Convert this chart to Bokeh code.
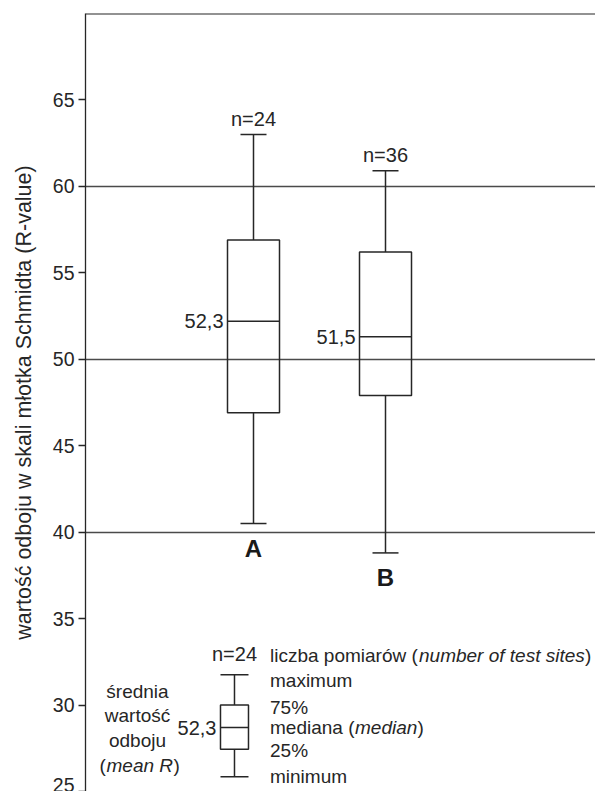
import math
from bokeh.plotting import figure
from bokeh.models import Range1d, FixedTicker, Span
from bokeh.core.properties import value
from bokeh.embed import file_html
from bokeh.resources import INLINE

# ---------------- data ----------------
groups = ["A", "B"]
n_sites = [24, 36]
mean_labels = ["52,3", "51,5"]
r_max = [63.0, 60.9]
r_q3 = [56.9, 56.2]
r_median = [52.2, 51.3]
r_q1 = [46.9, 47.9]
r_min = [40.5, 38.8]

# explanatory key box (example values)
key_n = 24
key_mean = "52,3"
key_max = 31.75
key_q3 = 30.0
key_median = 28.7
key_q1 = 27.45
key_min = 25.85

y_ticks = [25, 30, 35, 40, 45, 50, 55, 60, 65]
grid_ticks = [40, 50, 60]

# ---------------- layout ----------------
W, H = 595, 791
BORDER_L, BORDER_T = 85, 13
UX = 132.0
X_START = 1 - 168 / UX
X_END = X_START + (W - BORDER_L) / UX
Y_START, Y_END = 25.0, 70.0
FRAME_H = H - BORDER_T
UY = FRAME_H / (Y_END - Y_START)   # px per y unit


def xd(px):
    return X_START + (px - BORDER_L) / UX


def yd(px):
    return Y_END - (px - BORDER_T) / UY


FONT = "Liberation Sans"
FS = "19px"
INK = "#262626"
LW = 1.5

xs = [1 + i for i in range(len(groups))]
BOX_W = 52 / UX
CAP_W = 26 / UX
key_x = 0.856
KEY_W = 28 / UX

p = figure(width=W, height=H, output_backend="svg", toolbar_location=None,
           x_range=Range1d(X_START, X_END), y_range=Range1d(Y_START, Y_END),
           min_border_left=BORDER_L, min_border_right=0,
           min_border_top=BORDER_T, min_border_bottom=0)
p.outline_line_color = None
p.xaxis.visible = False
p.xgrid.visible = False
p.background_fill_color = "white"
p.border_fill_color = "white"

p.ygrid.ticker = FixedTicker(ticks=grid_ticks)
p.ygrid.grid_line_color = "#4a4a4a"
p.ygrid.grid_line_width = 1.3

ax = p.yaxis[0]
ax.ticker = FixedTicker(ticks=y_ticks)
ax.axis_line_color = INK
ax.axis_line_width = 1.3
ax.major_tick_line_color = INK
ax.major_tick_line_width = 1.3
ax.major_tick_out = 7
ax.major_tick_in = 0
ax.minor_tick_line_color = None
ax.major_label_standoff = 4
ax.major_label_text_font = FONT
ax.major_label_text_font_size = "19.5px"
ax.major_label_text_color = INK
ax.axis_label = "wartość odboju w skali młotka Schmidta (R-value)"
ax.axis_label_text_font = FONT
ax.axis_label_text_font_size = "21.5px"
ax.axis_label_text_font_style = "normal"
ax.axis_label_text_color = INK
ax.axis_label_standoff = 14

p.add_layout(Span(location=Y_END, dimension="width", line_color=INK, line_width=2))

# ---------------- boxes ----------------
p.quad(left=[x - BOX_W / 2 for x in xs], right=[x + BOX_W / 2 for x in xs],
       bottom=r_q1, top=r_q3, fill_color=None, line_color=INK, line_width=LW)
p.segment(x0=[x - BOX_W / 2 for x in xs], x1=[x + BOX_W / 2 for x in xs],
          y0=r_median, y1=r_median, line_color=INK, line_width=LW)
p.segment(x0=xs, x1=xs, y0=r_q3, y1=r_max, line_color=INK, line_width=LW)
p.segment(x0=xs, x1=xs, y0=r_q1, y1=r_min, line_color=INK, line_width=LW)
p.segment(x0=[x - CAP_W / 2 for x in xs], x1=[x + CAP_W / 2 for x in xs],
          y0=r_max, y1=r_max, line_color=INK, line_width=LW)
p.segment(x0=[x - CAP_W / 2 for x in xs], x1=[x + CAP_W / 2 for x in xs],
          y0=r_min, y1=r_min, line_color=INK, line_width=LW)

common = dict(text_font=value(FONT), text_font_size=FS, text_color=INK,
              text_baseline="middle")
num = dict(common, text_font_size="20px")
p.text(x=xs, y=[v + 15.5 / UY for v in r_max], text=["n=%d" % n for n in n_sites],
       text_align="center", **num)
p.text(x=[x - BOX_W / 2 - 4 / UX for x in xs], y=r_median, text=mean_labels,
       text_align="right", **num)
p.text(x=xs, y=[v - 25 / UY for v in r_min], text=groups,
       text_align="center", text_baseline="middle", text_font=value(FONT),
       text_font_size="24px", text_font_style="bold", text_color="#1a1a1a")

# ---------------- key ----------------
p.quad(left=[key_x - KEY_W / 2], right=[key_x + KEY_W / 2], bottom=[key_q1], top=[key_q3],
       fill_color=None, line_color=INK, line_width=LW)
p.segment(x0=[key_x - KEY_W / 2] * 3, x1=[key_x + KEY_W / 2] * 3,
          y0=[key_median, key_max, key_min], y1=[key_median, key_max, key_min],
          line_color=INK, line_width=LW)
p.segment(x0=[key_x, key_x], x1=[key_x, key_x], y0=[key_q3, key_q1], y1=[key_max, key_min],
          line_color=INK, line_width=LW)
p.text(x=[key_x], y=[key_max + 21 / UY], text=["n=%d" % key_n],
       text_align="center", **num)
p.text(x=[key_x - KEY_W / 2 - 4 / UX], y=[key_median], text=[key_mean],
       text_align="right", **num)

# left explanation (centred block)
left_lines = ["średnia", "wartość", "odboju"]
left_mid_px = [690.5, 715, 739.5]
p.text(x=[xd(137)] * 3, y=[yd(v) for v in left_mid_px], text=left_lines,
       text_align="center", **common)
yb = yd(764.5)
p.text(x=[xd(99), xd(173)], y=[yb, yb], text=["(", ")"], text_align="left", **common)
p.text(x=[xd(106)], y=[yb], text=["mean R"], text_align="left",
       text_font_style="italic", **common)

# right explanation
RX = xd(269.5)
y1 = yd(655)
p.text(x=[RX, xd(584.5)], y=[y1, y1], text=["liczba pomiarów (", ")"],
       text_align="left", **common)
p.text(x=[xd(418.5)], y=[y1], text=["number of test sites"], text_align="left",
       text_font_style="italic", **common)
ym = yd(726.5)
p.text(x=[RX, xd(417)], y=[ym, ym], text=["mediana (", ")"],
       text_align="left", **common)
p.text(x=[xd(354.5)], y=[ym], text=["median"], text_align="left",
       text_font_style="italic", **common)
p.text(x=[RX] * 4, y=[yd(680), yd(707), yd(750), yd(776)],
       text=["maximum", "75%", "25%", "minimum"],
       text_align="left", **common)

open("out.html", "w").write(file_html(p, INLINE))
